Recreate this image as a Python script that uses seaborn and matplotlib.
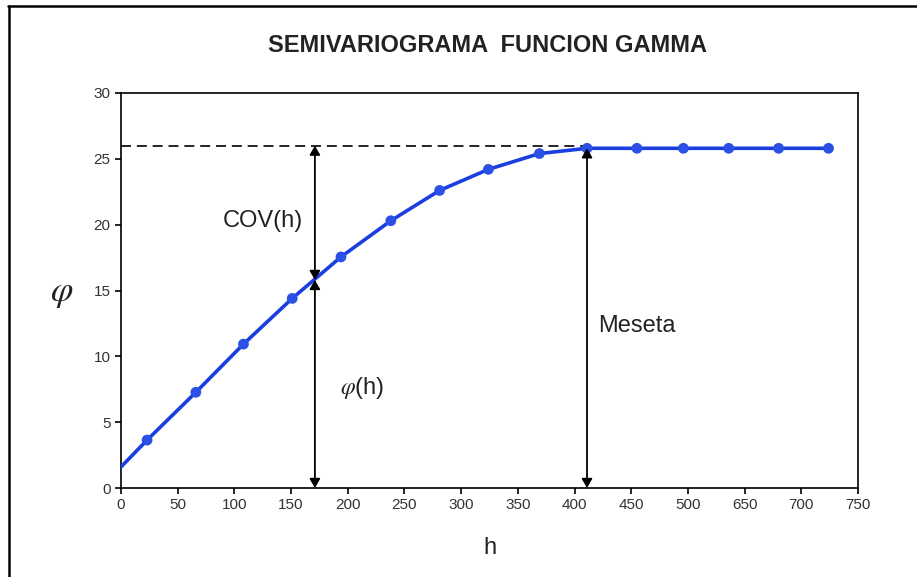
import matplotlib
matplotlib.use("Agg")
import matplotlib.pyplot as plt
import seaborn as sns
import pandas as pd
from matplotlib.lines import Line2D

# ---- data ----
h_points = [23, 66, 108, 151, 194, 238, 281, 324, 369, 411, 455, 496, 536, 580, 624]
gamma_points = [3.64, 7.27, 10.93, 14.4, 17.55, 20.3, 22.6, 24.2, 25.4, 25.8, 25.8, 25.8, 25.8, 25.8, 25.8]
h_start = 0
gamma_start = 1.6
sill = 26.0
h_arrow = 171
gamma_at_arrow = 15.8
h_range = 411
x_ticks = [0, 50, 100, 150, 200, 250, 300, 350, 400, 450, 500, 550, 600, 650]
x_tick_labels = ["0", "50", "100", "150", "200", "250", "300", "350", "400", "450", "500", "650", "700", "750"]
y_ticks = [0, 5, 10, 15, 20, 25, 30]

sns.set_theme(style="white")
plt.rcParams['font.family'] = ['Liberation Sans', 'DejaVu Sans']
plt.rcParams['mathtext.fontset'] = 'stix'

fig = plt.figure(figsize=(9.17, 5.77), dpi=100)
ax = fig.add_axes([121/917, 1-488/577, 737/917, 395/577])

line_df = pd.DataFrame({"h": [h_start] + h_points, "g": [gamma_start] + gamma_points})
pts_df = pd.DataFrame({"h": h_points, "g": gamma_points})

sns.lineplot(data=line_df, x="h", y="g", ax=ax, color="#1a3ee0", linewidth=2.6, zorder=3)
sns.scatterplot(data=pts_df, x="h", y="g", ax=ax, color="#2a50e6", s=60, edgecolor="none", zorder=4)

# dashed sill line
ax.plot([0, h_range], [sill, sill], color="black", linestyle=(0, (6, 3.5)), linewidth=1.2, zorder=2)

arrow_kw = dict(arrowstyle="<|-|>,head_length=0.45,head_width=0.26", color="black", lw=1.3,
                shrinkA=0, shrinkB=0)
ax.annotate("", xy=(h_arrow, 0), xytext=(h_arrow, gamma_at_arrow), arrowprops=arrow_kw, zorder=5)
ax.annotate("", xy=(h_arrow, gamma_at_arrow), xytext=(h_arrow, sill), arrowprops=arrow_kw, zorder=5)
ax.annotate("", xy=(h_range, 0), xytext=(h_range, 25.8), arrowprops=arrow_kw, zorder=5)

ax.text(125, 20.3, "COV(h)", fontsize=17, ha="center", va="center", color="#222222")
ax.text(213, 7.6, r"$\varphi$(h)", fontsize=17, ha="center", va="center", color="#222222")
ax.text(455, 12.3, "Meseta", fontsize=17, ha="center", va="center", color="#222222")

ax.set_xlim(0, 650)
ax.set_ylim(0, 30)
ax.set_xticks(x_ticks)
ax.set_xticklabels(x_tick_labels)
ax.set_yticks(y_ticks)
ax.tick_params(axis="both", which="both", direction="out", length=4, width=1.2,
               labelsize=11, labelcolor="#333333", color="black", bottom=True, left=True)
for s in ax.spines.values():
    s.set_color("black")
    s.set_linewidth(1.2)
    s.set_visible(True)

ax.set_xlabel("h", fontsize=17, labelpad=18, color="#222222")
ax.set_ylabel("")
fig.text(62/917, 1-293/577, r"$\varphi$", fontsize=26, ha="center", va="center", color="#222222")

fig.text(487/917, 1-45/577, "SEMIVARIOGRAMA  FUNCION GAMMA", fontsize=17, fontweight="bold",
         ha="center", va="center", color="#222222")

# frame: top and left edges only
fig.add_artist(Line2D([8/917, 1.0], [1-6/577, 1-6/577], transform=fig.transFigure, color="black", linewidth=1.8))
fig.add_artist(Line2D([9/917, 9/917], [0.0, 1-6/577], transform=fig.transFigure, color="black", linewidth=1.8))

fig.savefig("out.png", dpi=100)
